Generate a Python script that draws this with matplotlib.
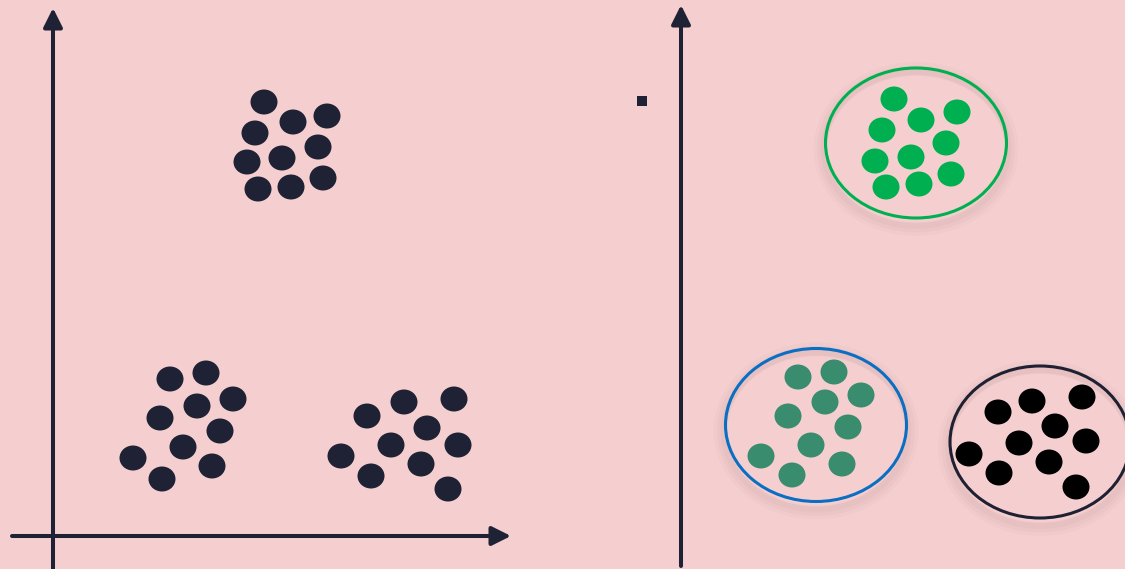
import matplotlib
matplotlib.use("Agg")
import matplotlib.pyplot as plt
from matplotlib.patches import Ellipse, Rectangle

W, H = 1125, 569
BG = "#f5cfd0"
AXC = "#1f2235"

# ---- data (pixel-like coordinates of the illustration) ----
left_top_x = [264, 293, 327, 255, 318, 247, 282, 258, 291, 323]
left_top_y = [102, 122, 116, 133, 147, 162, 158, 189, 187, 178]
left_bl_x = [170, 206, 233, 197, 160, 220, 183, 133, 162, 212]
left_bl_y = [379, 373, 399, 406, 418, 431, 447, 458, 479, 466]
left_br_x = [367, 404, 454, 427, 391, 458, 341, 371, 421, 448]
left_br_y = [416, 402, 399, 428, 445, 445, 456, 476, 464, 489]

green_x = [894, 921, 957, 882, 946, 875, 911, 951, 886, 919]
green_y = [99, 120, 112, 130, 143, 161, 157, 174, 187, 184]
teal_x = [798, 834, 861, 825, 788, 848, 811, 761, 792, 842]
teal_y = [377, 372, 395, 402, 416, 427, 445, 456, 475, 464]
black_x = [998, 1032, 1082, 1055, 1019, 1086, 969, 999, 1049, 1076]
black_y = [412, 401, 397, 426, 443, 441, 454, 473, 462, 487]

# cluster outlines: centre x, centre y, width, height
ell_cx = [916, 816, 1040]
ell_cy = [143, 425, 442]
ell_w = [181, 181, 180]
ell_h = [150, 153, 152]
ell_colors = ["#00b050", "#0a6fc2", "#1f2133"]

fig = plt.figure(figsize=(W / 100, H / 100), dpi=100, facecolor=BG)
ax = fig.add_axes([0, 0, 1, 1])
ax.set_xlim(0, W)
ax.set_ylim(H, 0)
ax.set_facecolor(BG)
ax.axis("off")

DOT_W, DOT_H = 27, 25

def dots(xs, ys, color):
    for x, y in zip(xs, ys):
        ax.add_patch(Ellipse((x, y), DOT_W, DOT_H, facecolor=color,
                             edgecolor="none", zorder=3))

# axes arrows
def arrow(x0, y0, x1, y1):
    ax.annotate("", xy=(x1, y1), xytext=(x0, y0),
                arrowprops=dict(arrowstyle="-|>,head_length=0.8,head_width=0.4",
                                lw=2.9, color=AXC, shrinkA=0, shrinkB=0,
                                mutation_scale=14.4), zorder=2)

arrow(53, 569, 53, 8)
arrow(12, 536, 511, 536)
arrow(681, 566, 681, 5)
arrow(640, 532, 1138, 532)

dots(left_top_x, left_top_y, "#1f2235")
dots(left_bl_x, left_bl_y, "#1f2235")
dots(left_br_x, left_br_y, "#1f2235")

# shadows + outlines
for cx, cy, w, h, c in zip(ell_cx, ell_cy, ell_w, ell_h, ell_colors):
    for k, a in [(10, 0.04), (7, 0.05), (4, 0.06)]:
        ax.add_patch(Ellipse((cx, cy + 6), w + k, h + k, facecolor="none",
                             edgecolor="#9a7070", lw=k, alpha=a, zorder=1))
    ax.add_patch(Ellipse((cx, cy), w, h, facecolor="none", edgecolor=c,
                         lw=2.2, zorder=2))

dots(green_x, green_y, "#00b050")
dots(teal_x, teal_y, "#3a8c6e")
dots(black_x, black_y, "#000000")

ax.add_patch(Rectangle((637, 96), 10, 10, facecolor=AXC, edgecolor="none"))

fig.savefig("out.png", dpi=100, facecolor=BG)
